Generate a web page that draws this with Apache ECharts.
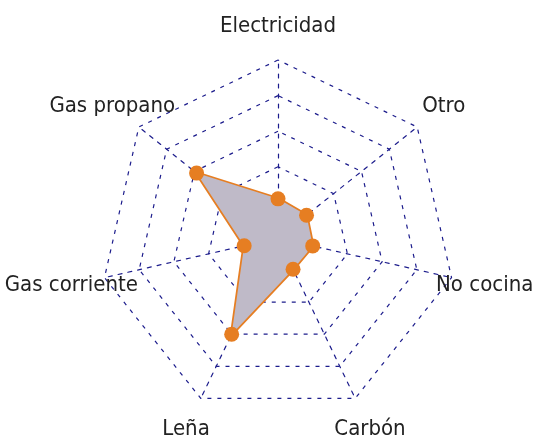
<!DOCTYPE html>
<html>
<head>
<meta charset="utf-8">
<script src="https://cdn.jsdelivr.net/npm/echarts@6/dist/echarts.min.js"></script>
<style>
html,body{margin:0;padding:0;background:#fff;}
#chart{width:534px;height:442px;}
</style>
</head>
<body>
<div id="chart"></div>
<script>
// Indicators in ECharts order (counter-clockwise from top)
var categories = ['Electricidad', 'Gas propano', 'Gas corriente', 'Leña', 'Carbón', 'No cocina', 'Otro'];
var values = [22, 58.5, 19.5, 60, 19.5, 20, 20.5];
var maxValue = 100;

var chart = echarts.init(document.getElementById('chart'));
chart.setOption({
  animation: false,
  backgroundColor: '#ffffff',
  radar: {
    center: [278, 238],
    radius: 178,
    startAngle: 90,
    splitNumber: 5,
    shape: 'polygon',
    indicator: categories.map(function (c) { return { name: c, max: maxValue }; }),
    nameGap: 34,
    axisName: {
      color: '#222222',
      fontFamily: '"Liberation Sans Narrow", "DejaVu Sans Condensed", sans-serif',
      fontSize: 22,
      align: 'center',
      verticalAlign: 'middle'
    },
    axisLine: { lineStyle: { color: '#1c1c8c', width: 1.2, type: [4, 6] } },
    splitLine: { lineStyle: { color: '#1c1c8c', width: 1.2, type: [4, 6] } },
    splitArea: { show: false },
    axisTick: { show: false },
    axisLabel: { show: false }
  },
  series: [{
    type: 'radar',
    symbol: 'circle',
    symbolSize: 15,
    z: 2,
    itemStyle: { color: '#e67e22', borderWidth: 0 },
    lineStyle: { color: '#e67e22', width: 3.5, opacity: 1, type: 'solid' },
    areaStyle: { color: '#bfbac8', opacity: 1 },
    data: [{
      value: values
    }]
  }]
});
</script>
</body>
</html>
